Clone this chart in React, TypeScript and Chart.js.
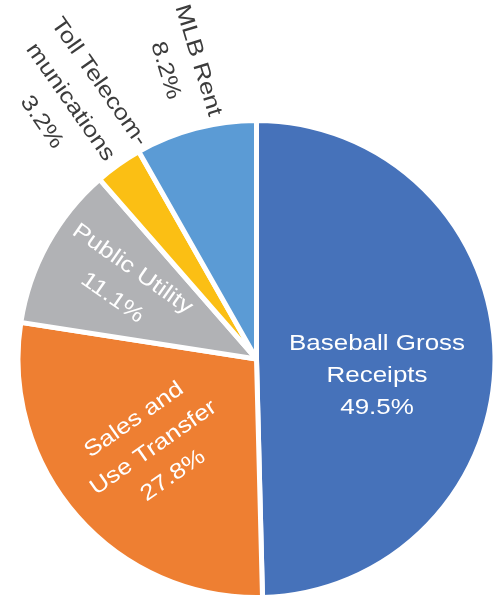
import React, { useEffect, useRef } from "react";
import { Chart, registerables } from "chart.js";

Chart.register(...registerables);

// ---- data ----
const categories = [
  "Baseball Gross Receipts",
  "Sales and Use Transfer",
  "Public Utility",
  "Toll Telecommunications",
  "MLB Rent",
];
const shares = [49.5, 27.8, 11.1, 3.2, 8.2];
const labelLines = [
  ["Baseball Gross", "Receipts"],
  ["Sales and", "Use Transfer"],
  ["Public Utility"],
  ["Toll Telecom-", "munications"],
  ["MLB Rent"],
];

// ---- style ----
const sliceColors = ["#4672BA", "#EE7F32", "#B1B2B5", "#FBBF14", "#5B9BD5"];
const labelColors = ["#FFFFFF", "#FFFFFF", "#FFFFFF", "#3C3C3C", "#3C3C3C"];
const labelRadius = [0.51, 0.57, 0.645, 1.33, 1.27];
const labelAngleShift = [8.5, 0.5, 0.5, -0.6, 0.5];
const labelRotation = [0, -35, 35, 55, 73];
const labelLineH = [32, 34, 35, 35, 34];
const FONT = "22px 'Liberation Sans', Arial, sans-serif";
const STRETCH_X = 1.18;

const pct = (v: number) => `${v.toFixed(1)}%`;

const labelPlugin = {
  id: "sliceLabels",
  afterDatasetsDraw(chart: any) {
    const ctx: CanvasRenderingContext2D = chart.ctx;
    const meta = chart.getDatasetMeta(0);
    meta.data.forEach((arc: any, i: number) => {
      const p = arc.getProps(["x", "y", "startAngle", "endAngle", "outerRadius"], true);
      const mid = (p.startAngle + p.endAngle) / 2 + (labelAngleShift[i] * Math.PI) / 180;
      const r = p.outerRadius * labelRadius[i];
      const cx = p.x + Math.cos(mid) * r;
      const cy = p.y + Math.sin(mid) * r;
      const lines = [...labelLines[i], pct(shares[i])];
      ctx.save();
      ctx.translate(cx, cy);
      ctx.rotate((labelRotation[i] * Math.PI) / 180);
      ctx.scale(STRETCH_X, 1);
      ctx.font = FONT;
      ctx.fillStyle = labelColors[i];
      ctx.textAlign = "center";
      ctx.textBaseline = "middle";
      lines.forEach((t, j) => {
        ctx.fillText(t, 0, (j - (lines.length - 1) / 2) * labelLineH[i]);
      });
      ctx.restore();
    });
  },
};

export default function App() {
  const ref = useRef<HTMLCanvasElement | null>(null);
  useEffect(() => {
    document.body.style.margin = "0";
    if (!ref.current) return;
    const chart = new Chart(ref.current, {
      type: "pie",
      data: {
        labels: categories,
        datasets: [
          {
            data: shares,
            backgroundColor: sliceColors,
            borderColor: "#FFFFFF",
            borderWidth: 5,
            radius: 238.5,
          } as any,
        ],
      },
      options: {
        animation: false,
        responsive: false,
        maintainAspectRatio: false,
        events: [],
        layout: { padding: { left: 13, right: 0, top: 120, bottom: 0 } },
        plugins: {
          legend: { display: false },
          tooltip: { enabled: false },
        },
      },
      plugins: [labelPlugin],
    });
    return () => chart.destroy();
  }, []);
  return (
    <div style={{ width: 500, height: 598, background: "#FFFFFF" }}>
      <canvas ref={ref} width={500} height={598} />
    </div>
  );
}
